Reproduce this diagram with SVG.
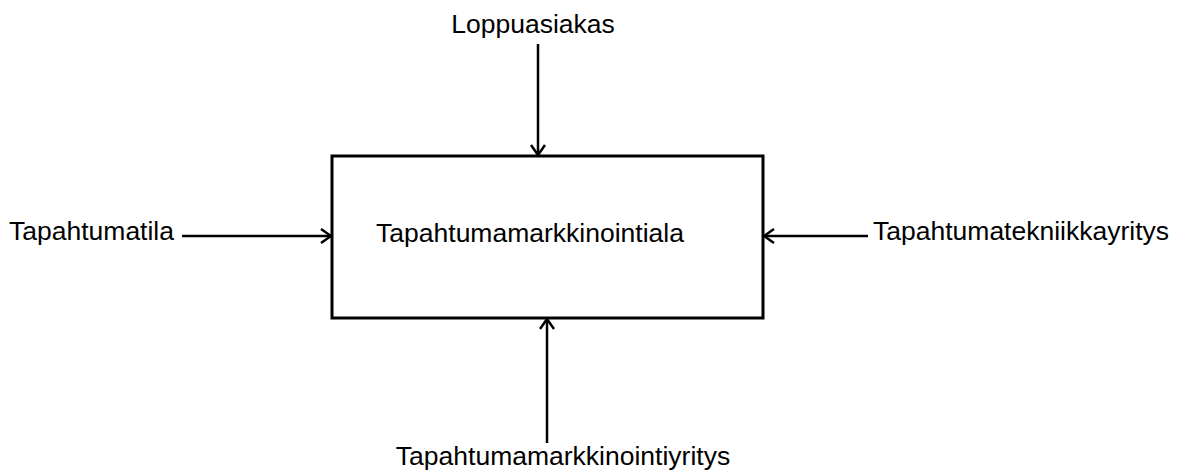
<svg xmlns="http://www.w3.org/2000/svg" width="1187" height="470" viewBox="0 0 1187 470">
<style>
text{font-family:"Liberation Sans",Arial,sans-serif;font-size:26.5px;fill:#000}
.c{stroke:#000;stroke-width:2.5;fill:none}
</style>
<defs>
<marker id="a" viewBox="0 0 12 16" refX="11" refY="8" markerWidth="12" markerHeight="16" markerUnits="userSpaceOnUse" orient="auto">
<path d="M1 1 L11 8 L1 15" fill="none" stroke="#000" stroke-width="2.5"/>
</marker>
</defs>
<rect width="1187" height="470" fill="#fff"/>
<g id="main">
<rect x="332" y="156" width="431" height="162" fill="#fff" stroke="#000" stroke-width="3"/>
<text x="530" y="242" text-anchor="middle">Tapahtumamarkkinointiala</text>
</g>
<g id="loppuasiakas"><text x="533" y="33" text-anchor="middle">Loppuasiakas</text></g>
<g id="tapahtumatila"><text x="9" y="240">Tapahtumatila</text></g>
<g id="tekniikka"><text x="873" y="240">Tapahtumatekniikkayritys</text></g>
<g id="markkinointiyritys"><text x="563" y="465" text-anchor="middle">Tapahtumamarkkinointiyritys</text></g>
<g id="connectors">
<line class="c" x1="538" y1="44" x2="538" y2="155" marker-end="url(#a)"/>
<line class="c" x1="182" y1="236" x2="331" y2="236" marker-end="url(#a)"/>
<line class="c" x1="868" y1="236" x2="764" y2="236" marker-end="url(#a)"/>
<line class="c" x1="547" y1="443" x2="547" y2="319" marker-end="url(#a)"/>
</g>
</svg>
